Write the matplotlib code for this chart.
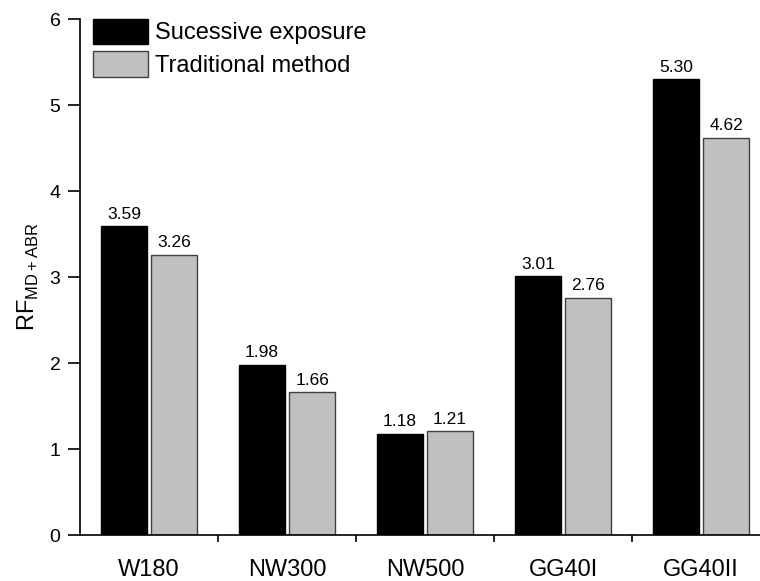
import matplotlib
matplotlib.use("Agg")
import matplotlib.pyplot as plt
import numpy as np

plt.rcParams['font.family'] = ['Liberation Sans', 'DejaVu Sans']

categories = ['W180', 'NW300', 'NW500', 'GG40I', 'GG40II']
successive = [3.59, 1.98, 1.18, 3.01, 5.30]
traditional = [3.26, 1.66, 1.21, 2.76, 4.62]

fig = plt.figure(figsize=(7.6, 5.81), dpi=100)
ax = fig.add_axes([80 / 760, 46 / 581, 690 / 760, 516 / 581])

x = np.arange(len(categories))
w = 0.333
off = 0.182
b1 = ax.bar(x - off, successive, w, color='black', edgecolor='black', linewidth=1,
            label='Sucessive exposure')
b2 = ax.bar(x + off, traditional, w, color='#c0c0c0', edgecolor='#404040', linewidth=1,
            label='Traditional method')

for bars, vals in ((b1, successive), (b2, traditional)):
    for r, v in zip(bars, vals):
        ax.text(r.get_x() + r.get_width() / 2, v + 0.05, f'{v:.2f}',
                ha='center', va='bottom', fontsize=12.5)

ax.set_xlim(-0.5, 4.5)
ax.set_ylim(0, 6)
ax.spines['top'].set_visible(False)
ax.spines['right'].set_visible(False)
ax.spines['left'].set_linewidth(1.2)
ax.spines['bottom'].set_linewidth(1.2)

ax.set_xticks(x)
ax.set_xticklabels(categories, fontsize=17)
ax.tick_params(axis='x', which='major', length=0, pad=17)
ax.set_xticks(np.arange(0.5, 4.5, 1), minor=True)
ax.tick_params(axis='x', which='minor', length=5, width=1.2, direction='out')

ax.set_yticks(range(0, 7))
ax.tick_params(axis='y', length=9, width=1.2, direction='out', labelsize=14, pad=5)

ax.set_ylabel(r'RF$_{\mathregular{MD+ABR}}$', fontsize=17, labelpad=6)

ax.legend(loc='upper left', bbox_to_anchor=(-0.012, 1.042), frameon=False, fontsize=17,
          handlelength=2.33, handleheight=1.3, handletextpad=0.3, labelspacing=0.3,
          borderaxespad=0.5)

fig.savefig('out.png', dpi=100)
